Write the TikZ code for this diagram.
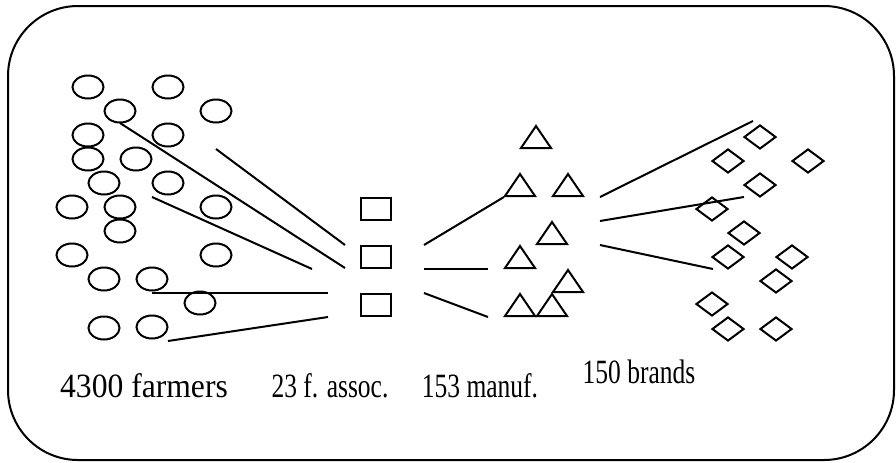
\documentclass[tikz,border=0pt]{standalone}
\usepackage{fontspec}
\setmainfont{Liberation Serif}
\usepackage{graphicx}
\usepackage{tikz}
\usetikzlibrary{shapes.geometric}

\begin{document}
\begin{tikzpicture}[
  x=0.5pt, y=-0.5pt, line width=1pt,
  farm/.style={ellipse, draw, inner sep=0, minimum width=15.5pt, minimum height=11.5pt},
  assoc/.style={rectangle, draw, inner sep=0, minimum width=15pt, minimum height=11pt},
  manuf/.style={isosceles triangle, isosceles triangle stretches, shape border rotate=90,
                draw, inner sep=0, minimum width=15pt, minimum height=11pt, anchor=lower side},
  brand/.style={diamond, draw, inner sep=0, minimum width=16pt, minimum height=12pt},
  lab/.style={anchor=base, inner sep=0, font=\fontsize{17}{20}\selectfont}]

\useasboundingbox (0,0) rectangle (896,462);
\draw[rounded corners=35pt] (8,6) rectangle (894,460);

\foreach \n/\x/\y in {1/88/87, 2/168/87, 3/120/111, 4/216/111, 5/88/135, 6/168/135,
    7/88/159, 8/136/159, 9/104/183, 10/168/183, 11/72/207, 12/120/207, 13/216/207,
    14/120/231, 15/72/255, 16/216/255, 17/104/279, 18/152/279, 19/200/303,
    20/104/328, 21/152/327}
  \node[farm] (f\n) at (\x,\y) {};

\foreach \n/\y in {1/209, 2/257, 3/305}
  \node[assoc] (a\n) at (376,\y) {};

\foreach \n/\x/\y in {1/536/149, 2/520/197, 3/568/197, 4/552/245, 5/520/269,
    6/568/293, 7/520/317, 8/552/317}
  \node[manuf] (m\n) at (\x,\y) {};

\foreach \n/\x/\y in {1/760/137, 2/728/161, 3/808/161, 4/760/185, 5/712/209,
    6/744/233, 7/728/257, 8/792/257, 9/776/281, 10/712/304, 11/728/329, 12/776/329}
  \node[brand] (b\n) at (\x,\y) {};

\coordinate (fo1) at (120,123); \coordinate (ai1) at (345,268);
\coordinate (fo2) at (216,149); \coordinate (ai2) at (345,245);
\coordinate (fo3) at (152,197); \coordinate (ai3) at (312,269);
\coordinate (fo4) at (152,293); \coordinate (ai4) at (328,293);
\coordinate (fo5) at (168,341); \coordinate (ai5) at (328,317);

\coordinate (ao1) at (424,245); \coordinate (mi1) at (504,197);
\coordinate (ao2) at (424,269); \coordinate (mi2) at (488,269);
\coordinate (ao3) at (424,293); \coordinate (mi3) at (488,317);

\coordinate (mo1) at (600,197); \coordinate (bi1) at (753,121);
\coordinate (mo2) at (600,221); \coordinate (bi2) at (744,197);
\coordinate (mo3) at (600,245); \coordinate (bi3) at (713,269);

\foreach \i in {1,...,5} \draw (fo\i) -- (ai\i);
\foreach \i in {1,2,3} \draw (ao\i) -- (mi\i);
\foreach \i in {1,2,3} \draw (mo\i) -- (bi\i);

\node[lab] (farmers) at (144,397) {\scalebox{0.93}[1]{4300 farmers}};
\node[lab] (assocs) at (330,397) {\scalebox{0.75}[1]{23 f. assoc.}};
\node[lab] (manufs) at (480,397) {\scalebox{0.75}[1]{153 manuf.}};
\node[lab] (brands) at (639,383) {\scalebox{0.75}[1]{150 brands}};
\end{tikzpicture}
\end{document}
